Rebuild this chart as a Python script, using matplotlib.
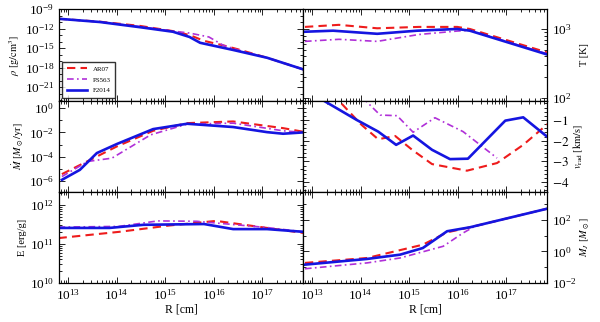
import numpy as np
import matplotlib
matplotlib.use("Agg")
import matplotlib.pyplot as plt
from matplotlib.ticker import LogLocator, NullFormatter, FixedLocator

plt.rcParams['font.family'] = ['Liberation Serif', 'DejaVu Serif']
plt.rcParams['mathtext.fontset'] = 'stix'

# ---- data (log10 R [cm] and values) ----
# density rho [g/cm^3]
rho_R_f = [12.80, 13.65, 14.48, 15.16, 15.50, 15.72, 16.40, 17.10, 17.85]
rho_f = [10**-10.5, 10**-11.0, 10**-11.8, 10**-12.5, 10**-13.3, 10**-14.2, 10**-15.3, 10**-16.5, 10**-18.3]
rho_R_a = [12.80, 13.65, 14.48, 15.16, 15.50, 15.80, 16.20, 16.50, 17.10, 17.85]
rho_a = [10**-10.5, 10**-10.95, 10**-11.6, 10**-12.4, 10**-13.0, 10**-13.9, 10**-14.6, 10**-15.2, 10**-16.5, 10**-18.3]
rho_R_p = [12.80, 13.65, 14.48, 15.16, 15.50, 15.90, 16.20, 16.50, 17.10, 17.85]
rho_p = [10**-10.5, 10**-11.0, 10**-11.7, 10**-12.4, 10**-12.7, 10**-13.3, 10**-14.6, 10**-15.3, 10**-16.5, 10**-18.3]

# temperature T [K]
T_R_f = [12.85, 13.43, 14.34, 15.16, 15.99, 16.25, 17.84]
T_f = [10**2.96, 10**2.975, 10**2.93, 10**2.975, 10**3.0, 10**2.975, 10**2.63]
T_R_a = [12.85, 13.55, 14.34, 15.20, 15.99, 16.25, 17.84]
T_a = [10**3.03, 10**3.06, 10**3.01, 10**3.03, 10**3.03, 10**3.0, 10**2.66]
T_R_p = [12.85, 13.55, 14.34, 15.20, 15.99, 16.25, 17.84]
T_p = [10**2.82, 10**2.85, 10**2.82, 10**2.92, 10**2.97, 10**2.98, 10**2.64]

# mass accretion rate Mdot [Msun/yr]
M_R_f = [12.87, 13.24, 13.59, 14.00, 14.75, 15.45, 16.40, 17.10, 17.43, 17.85]
Mdot_f = [10**-5.9, 10**-5.08, 10**-3.7, 10**-2.96, 10**-1.73, 10**-1.29, 10**-1.56, 10**-1.98, 10**-2.11, 10**-2.0]
M_R_a = [12.87, 14.00, 14.75, 15.45, 16.40, 17.43, 17.85]
Mdot_a = [10**-5.43, 10**-3.16, 10**-1.87, 10**-1.24, 10**-1.1, 10**-1.65, 10**-1.95]
M_R_p = [12.87, 13.40, 13.90, 14.70, 15.45, 16.40, 17.43, 17.85]
Mdot_p = [10**-5.63, 10**-4.39, 10**-4.12, 10**-2.2, 10**-1.32, 10**-1.24, 10**-1.87, 10**-2.0]

# radial velocity v_rad [km/s]
v_R_f = [12.85, 13.22, 13.92, 14.36, 14.73, 15.08, 15.47, 15.84, 16.21, 16.98, 17.35, 17.85]
v_f = [0.3, -0.04, -1.0, -1.56, -2.2, -1.75, -2.44, -2.89, -2.87, -1.03, -0.87, -1.82]
v_R_a = [12.85, 13.57, 14.02, 14.36, 14.71, 15.06, 15.47, 16.19, 16.81, 17.35, 17.85]
v_a = [0.6, -0.12, -1.24, -1.93, -1.77, -2.44, -3.13, -3.45, -3.08, -2.2, -1.2]
v_R_p = [12.85, 14.09, 14.40, 14.75, 15.08, 15.53, 16.11, 16.81]
v_p = [1.0, -0.04, -0.76, -0.79, -1.59, -0.89, -1.56, -2.84]

# specific energy E [erg/g]
E_R_f = [12.80, 13.85, 14.55, 15.80, 16.40, 17.10, 17.85]
E_f = [10**11.41, 10**11.41, 10**11.49, 10**11.51, 10**11.38, 10**11.38, 10**11.31]
E_R_a = [12.80, 14.05, 15.07, 16.05, 17.10, 17.85]
E_a = [10**11.15, 10**11.31, 10**11.47, 10**11.59, 10**11.41, 10**11.28]
E_R_p = [12.80, 14.05, 14.85, 15.65, 17.10, 17.85]
E_p = [10**11.43, 10**11.45, 10**11.59, 10**11.58, 10**11.42, 10**11.31]

# Jeans mass M_J [Msun]
J_R_f = [12.85, 14.13, 14.81, 15.28, 15.78, 16.25, 17.85]
MJ_f = [10**-0.84, 10**-0.48, 10**-0.21, 10**0.21, 10**1.27, 10**1.52, 10**2.7]
J_R_a = [12.85, 14.13, 15.28, 15.78, 16.25, 17.85]
MJ_a = [10**-0.73, 10**-0.42, 10**0.42, 10**1.2, 10**1.52, 10**2.7]
J_R_p = [12.85, 14.13, 14.81, 15.70, 16.11, 16.35, 17.85]
MJ_p = [10**-1.1, 10**-0.73, 10**-0.42, 10**0.32, 10**1.16, 10**1.58, 10**2.7]

labels = ['AR07', 'PS563', 'F2014']
c_red, c_pur, c_blu = '#ee1c1c', '#b030d8', '#1515e0'

fig = plt.figure(figsize=(6.0, 3.22), dpi=100)
L, Rr, M = 59/600, 547/600, 303/600
tops = [9, 101, 192, 283]
axes = []
for i in range(3):
    y0 = 1 - tops[i+1]/322
    h = (tops[i+1]-tops[i])/322
    axl = fig.add_axes([L, y0, M-L, h])
    axr = fig.add_axes([M, y0, Rr-M, h])
    axes.append((axl, axr))

xlim = (10**12.81, 10**17.84)

def draw(ax, xa, ya, xp, yp, xf, yf, logy=True):
    ax.plot(10**np.array(xa), ya, color=c_red, ls=(0, (4, 2.5)), lw=1.5, label=labels[0])
    ax.plot(10**np.array(xp), yp, color=c_pur, ls=(0, (4, 2, 1, 2)), lw=1.2, label=labels[1])
    ax.plot(10**np.array(xf), yf, color=c_blu, ls='-', lw=1.9, label=labels[2])
    ax.set_xscale('log')
    if logy:
        ax.set_yscale('log')
    ax.set_xlim(*xlim)

draw(axes[0][0], rho_R_a, rho_a, rho_R_p, rho_p, rho_R_f, rho_f)
draw(axes[0][1], T_R_a, T_a, T_R_p, T_p, T_R_f, T_f)
draw(axes[1][0], M_R_a, Mdot_a, M_R_p, Mdot_p, M_R_f, Mdot_f)
draw(axes[1][1], v_R_a, v_a, v_R_p, v_p, v_R_f, v_f, logy=False)
draw(axes[2][0], E_R_a, E_a, E_R_p, E_p, E_R_f, E_f)
draw(axes[2][1], J_R_a, MJ_a, J_R_p, MJ_p, J_R_f, MJ_f)

# y limits and ticks
a = axes[0][0]
a.set_ylim(10**-23.15, 1e-9)
a.yaxis.set_major_locator(FixedLocator([1e-21, 1e-18, 1e-15, 1e-12, 1e-9]))
a.yaxis.set_minor_locator(FixedLocator([10.0**k for k in range(-23, -8)]))
a.yaxis.set_minor_formatter(NullFormatter())
a.set_ylabel(r'$\rho\ [{\rm g/cm^3}]$', fontsize=7.5, labelpad=2)

a = axes[0][1]
a.set_ylim(90, 1950)
a.set_ylabel(r'T [K]', fontsize=7.5, labelpad=6)

a = axes[1][0]
a.set_ylim(10**-6.9, 10**0.58)
a.yaxis.set_major_locator(FixedLocator([1e-6, 1e-4, 1e-2, 1e0]))
a.yaxis.set_minor_locator(FixedLocator([10.0**k for k in range(-7, 1)]))
a.yaxis.set_minor_formatter(NullFormatter())
a.set_ylabel(r'$\dot{M}\ [M_\odot/{\rm yr}]$', fontsize=7.5, labelpad=2)

a = axes[1][1]
a.set_ylim(-4.48, -0.08)
a.set_yticks([-4, -3, -2, -1])
a.set_yticklabels(['$-4$', '$-3$', '$-2$', '$-1$'])
a.yaxis.set_minor_locator(FixedLocator(np.arange(-4.4, -0.05, 0.2)))
a.set_ylabel(r'$v_{\rm rad}\ [{\rm km/s}]$', fontsize=7.5, labelpad=2)

a = axes[2][0]
a.set_ylim(1e10, 10**12.33)
a.set_ylabel(r'E [erg/g]', fontsize=7.5, labelpad=2)

a = axes[2][1]
a.set_ylim(1e-2, 10**3.75)
a.yaxis.set_major_locator(FixedLocator([1e-2, 1e0, 1e2]))
a.yaxis.set_minor_locator(FixedLocator([10.0**k for k in range(-2, 4)]))
a.yaxis.set_minor_formatter(NullFormatter())
a.set_ylabel(r'$M_J\ [M_\odot]$', fontsize=7.5, labelpad=2)

for i, (axl, axr) in enumerate(axes):
    for ax in (axl, axr):
        ax.tick_params(which='both', direction='in', top=True, bottom=True,
                       left=True, right=True, labelsize=9.5, width=0.6)
        ax.tick_params(which='major', length=4)
        ax.tick_params(which='minor', length=2)
        ax.xaxis.set_major_locator(LogLocator(base=10, numticks=20))
        ax.xaxis.set_minor_locator(LogLocator(base=10, subs=np.arange(2, 10), numticks=50))
        ax.xaxis.set_minor_formatter(NullFormatter())
        for s in ax.spines.values():
            s.set_linewidth(0.9)
        if i < 2:
            ax.tick_params(labelbottom=False)
        else:
            ax.set_xlabel('R [cm]', fontsize=8.5, labelpad=1)
    axr.yaxis.tick_right()
    axr.yaxis.set_label_position('right')
    axr.tick_params(which='both', left=True, right=True, labelleft=False, labelright=True)

axes[0][0].legend(loc='lower left', fontsize=5, frameon=True, fancybox=False,
                  edgecolor='black', handlelength=3.0, borderpad=0.6, labelspacing=0.7,
                  bbox_to_anchor=(0.0, 0.0))

fig.savefig('out.png', dpi=100)
